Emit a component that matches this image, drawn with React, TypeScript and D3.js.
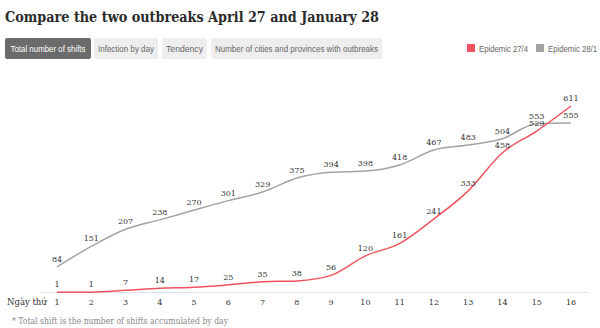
import React from "react";
import * as d3 from "d3";

const days = [1, 2, 3, 4, 5, 6, 7, 8, 9, 10, 11, 12, 13, 14, 15, 16];
const epidemic274 = [1, 1, 7, 14, 17, 25, 35, 38, 56, 120, 161, 241, 333, 458, 529, 611];
const epidemic281 = [84, 151, 207, 238, 270, 301, 329, 375, 394, 398, 418, 467, 483, 504, 553, 555];
const tabs = ["Total number of shifts", "Infection by day", "Tendency", "Number of cities and provinces with outbreaks"];
const legendItems = [
  { name: "Epidemic 27/4", color: "#f0525f" },
  { name: "Epidemic 28/1", color: "#a3a3a3" },
];

const W = 600;
const H = 328;

export default function App() {
  const x = d3.scaleLinear().domain([1, 16]).range([57, 571]);
  const y = d3.scaleLinear().domain([0, 611]).range([292.5, 106]);
  const line = d3
    .line<number>()
    .x((_, i) => x(days[i]))
    .y((d) => y(d))
    .curve(d3.curveMonotoneX);

  const serif = "'DejaVu Serif', serif";
  const sans = "'Liberation Sans', Arial, sans-serif";

  const tabX = [5, 94, 162, 211];
  const tabW = [86, 64, 45, 171];
  const tabTextW = [75, 56, 37, 163];

  return (
    <svg width={W} height={H} style={{ position: "absolute", left: 0, top: 0, background: "#fff" }}>
      <text x={5} y={22} fontFamily={serif} fontWeight="bold" fontSize={14.5} fill="#2b2b2b" textLength={374} lengthAdjust="spacingAndGlyphs">
        Compare the two outbreaks April 27 and January 28
      </text>
      {tabs.map((t, i) => (
        <g key={t}>
          <rect x={tabX[i]} y={38} width={tabW[i]} height={21} rx={2} fill={i === 0 ? "#6b6b6b" : "#eeeeee"} />
          <text x={tabX[i] + tabW[i] / 2} y={51.5} textAnchor="middle" fontFamily={sans} fontSize={8.5} fill={i === 0 ? "#fff" : "#666"} textLength={tabTextW[i]} lengthAdjust="spacingAndGlyphs">
            {t}
          </text>
        </g>
      ))}
      {legendItems.map((l, i) => {
        const lx = i === 0 ? 467 : 536;
        return (
          <g key={l.name}>
            <rect x={lx} y={44} width={8} height={8} fill={l.color} />
            <text x={lx + 12} y={51.5} fontFamily={sans} fontSize={8.5} fill="#666" textLength={49} lengthAdjust="spacingAndGlyphs">
              {l.name}
            </text>
          </g>
        );
      })}
      <line x1={40} x2={588} y1={292.5} y2={292.5} stroke="#dde4f0" strokeWidth={1} />
      <text x={7} y={305} fontFamily={serif} fontSize={8.5} fill="#333">Ngày thứ</text>
      {days.map((d) => (
        <text key={d} x={x(d)} y={305} textAnchor="middle" fontFamily={serif} fontSize={8} fill="#333">
          {d}
        </text>
      ))}
      <path d={line(epidemic281) || ""} fill="none" stroke="#a3a3a3" strokeWidth={1.5} />
      <path d={line(epidemic274) || ""} fill="none" stroke="#f0525f" strokeWidth={1.5} />
      {epidemic281.map((v, i) => (
        <text key={"g" + i} x={x(days[i])} y={y(v) - 5} textAnchor="middle" fontFamily={serif} fontSize={8} fill="#333">
          {v}
        </text>
      ))}
      {epidemic274.map((v, i) => (
        <text key={"r" + i} x={x(days[i])} y={y(v) - 5} textAnchor="middle" fontFamily={serif} fontSize={8} fill="#333">
          {v}
        </text>
      ))}
      <text x={12} y={324} fontFamily={serif} fontSize={8.5} fill="#888" textLength={216} lengthAdjust="spacingAndGlyphs">
        * Total shift is the number of shifts accumulated by day
      </text>
    </svg>
  );
}
